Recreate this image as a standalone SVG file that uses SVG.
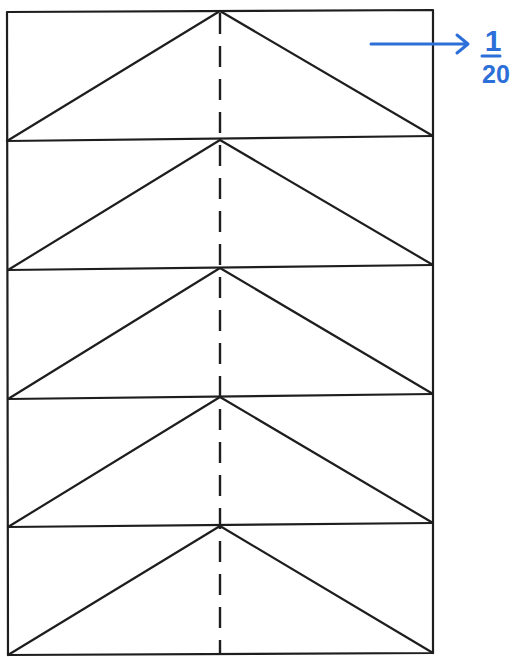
<svg xmlns="http://www.w3.org/2000/svg" width="512" height="657" viewBox="0 0 512 657">
<style>
.ln{fill:none;stroke:#1e1e1e;stroke-width:2.2;stroke-linecap:round;stroke-linejoin:round}
.dash{fill:none;stroke:#1e1e1e;stroke-width:2.4;stroke-dasharray:21 12}
.blue{fill:none;stroke:#2c6fd8;stroke-width:3;stroke-linecap:round;stroke-linejoin:round}
.bt{fill:#2c6fd8;font-family:"Liberation Sans",Arial,sans-serif;font-weight:bold;text-anchor:middle}
</style>
<rect width="512" height="657" fill="#ffffff"/>
<g id="frame">
<path class="ln" d="M7,12 L433,10 L433,653 L8,655 Z"/>
</g>
<g id="band1">
<path class="ln" d="M7,141 L433,136"/>
<path class="ln" d="M7,141 L220,11 L433,136"/>
</g>
<g id="band2">
<path class="ln" d="M8,270 L433,265"/>
<path class="ln" d="M8,270 L220,140 L433,265"/>
</g>
<g id="band3">
<path class="ln" d="M8,399 L433,394"/>
<path class="ln" d="M8,399 L220,268 L433,394"/>
</g>
<g id="band4">
<path class="ln" d="M8,527 L433,523"/>
<path class="ln" d="M8,527 L220,397 L433,523"/>
</g>
<g id="band5">
<path class="ln" d="M8,655 L220,526 L433,653"/>
</g>
<g id="connectors">
<path class="dash" d="M220,13 L220,654"/>
<path class="blue" d="M371,44 L468,44 M457,35 L468,44 L457,53"/>
</g>
<g id="label">
<text class="bt" x="493" y="51" font-size="30">1</text>
<path class="blue" d="M482,56 L500,56"/>
<text class="bt" x="496" y="83" font-size="25">20</text>
</g>
</svg>
